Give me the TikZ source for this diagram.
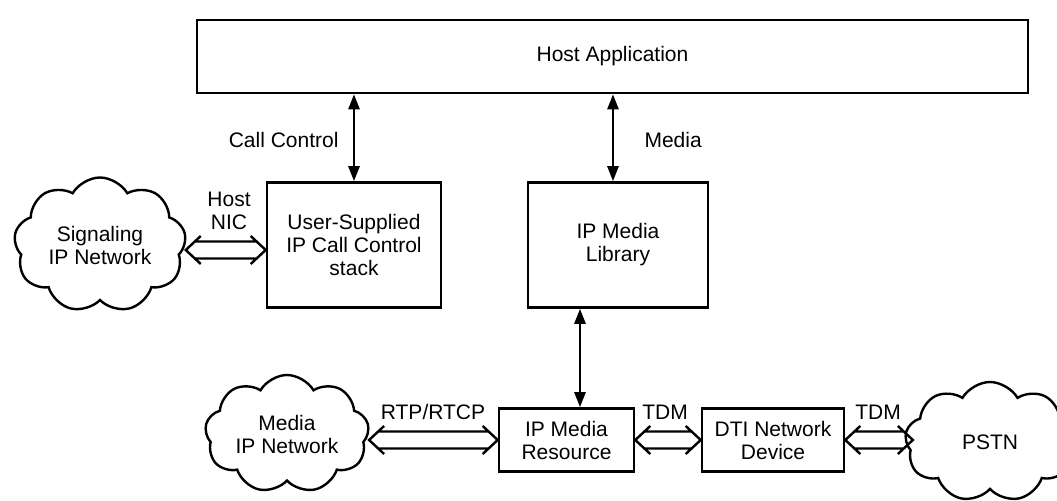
\documentclass[tikz,border=0pt]{standalone}
\usepackage{fontspec}
\setmainfont{Liberation Sans}
\usetikzlibrary{shapes.symbols,arrows.meta,calc}

\tikzset{
  box/.style={draw, line width=2.6bp, align=center, inner sep=0pt},
  netcloud/.style={cloud, draw, line width=2.4bp, cloud puffs=9,
    cloud puff arc=120, cloud ignores aspect, align=center, inner sep=0pt},
  biarrow/.style={line width=2.6bp,
    {Triangle[length=15bp,width=11bp]}-{Triangle[length=15bp,width=11bp]}},
  widearrow/.style={line width=2.4bp, line cap=butt, line join=miter},
}

% hollow two-line arrow with open chevron heads at both ends
\newcommand\widelink[2]{%
  \draw[widearrow] let \p1=(#1), \p2=(#2) in
    (\x1+15bp,\y1+14bp) -- (\x1,\y1) -- (\x1+15bp,\y1-14bp)
    (\x2-15bp,\y2+14bp) -- (\x2,\y2) -- (\x2-15bp,\y2-14bp)
    (\x1+9bp,\y1+8.5bp) -- (\x2-9bp,\y2+8.5bp)
    (\x1+9bp,\y1-8.5bp) -- (\x2-9bp,\y2-8.5bp);}

\begin{document}
\begin{tikzpicture}[x=1bp,y=-1bp,font=\fontsize{21bp}{23bp}\selectfont]
\useasboundingbox (0,0) rectangle (1057,501);

% boxes
\node[box, minimum width=831bp, minimum height=73bp] (host) at (612.5,56.5) {Host Application};
\node[box, minimum width=174bp, minimum height=125bp] (user) at (354,245)
  {User-Supplied\\IP Call Control\\stack};
\node[box, minimum width=180bp, minimum height=125bp] (lib) at (618,245) {IP Media\\Library};
\node[box, minimum width=135bp, minimum height=63bp] (res) at (566.5,440) {IP Media\\Resource};
\node[box, minimum width=142bp, minimum height=63bp] (dti) at (773,440) {DTI Network\\Device};

% networks
\node[netcloud, minimum width=172bp, minimum height=135bp] (sig) at (100,245) {Signaling\\IP Network};
\node[netcloud, minimum width=164bp, minimum height=118bp] (mnet) at (287,434) {Media\\IP Network};
\node[netcloud, minimum width=170bp, minimum height=120bp] (pstn) at (990,442) {PSTN};

% labels
\node[anchor=east] (cc) at (342,140) {Call Control};
\node[anchor=west] (ml) at (641,140) {Media};
\node[align=center] (nic) at (229,211) {Host\\NIC};
\node (rtp) at (433,412) {RTP/RTCP};
\node (tdma) at (665,412) {TDM};
\node (tdmb) at (878,412) {TDM};

% single-line links
\coordinate (mtop) at ([xshift=-5bp]lib.north);
\coordinate (rtop) at ([xshift=13.5bp]res.north);
\draw[biarrow] (host.south -| user.north) -- (user.north);
\draw[biarrow] (mtop |- host.south) -- (mtop);
\draw[biarrow] (rtop |- lib.south) -- (rtop);

% wide links
\coordinate (nicend) at ([yshift=-5bp]user.west);
\coordinate (pin) at ($(pstn.west |- dti.east)+(8,0)$);
\widelink{sig.east |- nicend}{nicend}
\widelink{mnet.east |- res.west}{res.west}
\widelink{res.east}{dti.west}
\widelink{dti.east}{pin}
\end{tikzpicture}
\end{document}
